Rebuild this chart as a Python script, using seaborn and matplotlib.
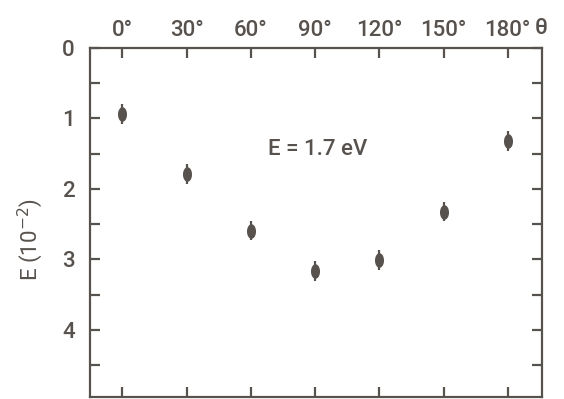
import matplotlib
matplotlib.use("Agg")
import matplotlib.pyplot as plt
from matplotlib.path import Path
import numpy as np
import pandas as pd
import seaborn as sns

# angle theta (deg) and E (10^-2)
theta = [0, 30, 60, 90, 120, 150, 180]
e_val = [0.94, 1.79, 2.59, 3.16, 3.01, 2.32, 1.32]
e_err = [0.14, 0.14, 0.14, 0.14, 0.14, 0.14, 0.14]
x_labels = ["0°", "30°", "60°", "90°", "120°", "150°", "180°"]
y_ticks = [0, 1, 2, 3, 4]

ink = "#57524d"

df = pd.DataFrame({"theta": theta, "E": e_val, "err": e_err})

sns.set_theme(style="ticks")
plt.rcParams["font.family"] = ["Roboto", "DejaVu Sans"]
plt.rcParams["font.weight"] = "medium"

# tall ellipse marker like the hand-inked points
t = np.linspace(0, 2 * np.pi, 40)
blob = Path(np.column_stack([0.62 * np.cos(t), np.sin(t)]), closed=True)

fig = plt.figure(figsize=(5.64, 3.99), dpi=100)
ax = fig.add_axes([0.16, 0.005, 0.801, 0.875])

ax.errorbar(df.theta, df.E, yerr=df.err, fmt="none", ecolor=ink,
            elinewidth=1.6, capsize=0, zorder=2)
sns.scatterplot(data=df, x="theta", y="E", ax=ax, color=ink, s=110,
                marker=blob, edgecolor=ink, linewidth=0, zorder=3)

ax.set_xlim(-15, 196)
ax.set_ylim(4.95, 0)
ax.set_xlabel("")
ax.set_ylabel("E (10$^{-2}$)", fontsize=16, color=ink)
ax.yaxis.set_label_coords(-0.10, 0.45)

ax.xaxis.tick_top()
ax.set_xticks(theta)
ax.set_xticklabels(x_labels, fontsize=16, color=ink)
ax.set_yticks(y_ticks)
ax.set_yticklabels([str(v) for v in y_ticks], fontsize=16, color=ink)
ax.set_yticks([0.5, 1.5, 2.5, 3.5, 4.5], minor=True)

ax.tick_params(axis="both", which="both", direction="in", color=ink,
               width=1.6, length=7, top=True, bottom=True, left=True,
               right=True, labeltop=True, labelbottom=False, pad=5)
ax.tick_params(axis="y", pad=11)

for s in ax.spines.values():
    s.set_color(ink)
    s.set_linewidth(1.6)

ax.text(91, 1.44, "E = 1.7 eV", fontsize=16, color=ink, ha="center", va="center")
fig.text(0.948, 0.928, "θ", fontsize=16, color=ink, ha="left", va="center")

fig.savefig("out.png", dpi=100, facecolor="white")
